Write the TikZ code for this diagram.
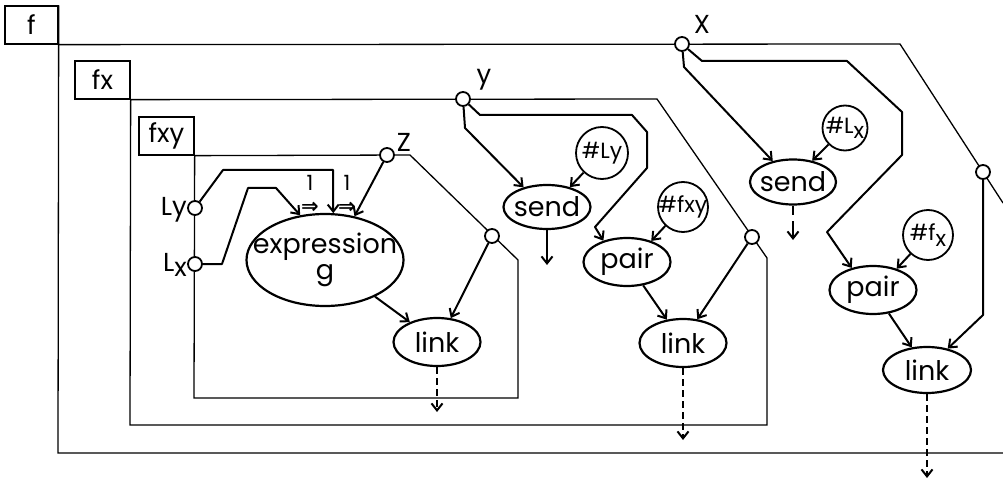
\documentclass[tikz,border=0pt]{standalone}
\usepackage{fontspec}
\setmainfont{Poppins}
\newfontfamily\arrowfont{DejaVu Sans}
\usetikzlibrary{arrows.meta,shapes.geometric}
\newcommand{\zw}[1]{\makebox[0pt]{#1}}
\tikzset{
  frameline/.style={line width=1.3pt, line join=miter},
  conn/.style={line width=2pt, line join=round},
  arr/.style={-{Straight Barb[length=7pt,width=11pt]}},
  dashy/.style={dash pattern=on 7pt off 4pt},
  proc/.style={ellipse, draw, line width=2.2pt, inner sep=0pt, font=\fontsize{27}{27}\selectfont},
  port/.style={circle, draw, line width=1.8pt, fill=white, minimum size=14pt, inner sep=0pt},
  konst/.style={circle, draw, line width=1.8pt, inner sep=0pt, font=\fontsize{22}{22}\selectfont},
  lab/.style={inner sep=0pt, font=\fontsize{26}{26}\selectfont},
  tagbox/.style={draw, line width=1.3pt, inner sep=0pt, font=\fontsize{26}{26}\selectfont},
  annot/.style={inner sep=0pt, align=center, font=\fontsize{21}{21}\selectfont},
}
\begin{document}
\begin{tikzpicture}[x=1pt,y=-1pt]
\useasboundingbox (0,0) rectangle (1003,481);
% frame labels
\node[tagbox, minimum width=53pt, minimum height=38pt] (tf) at (31.5,25) {f};
\node[tagbox, minimum width=55pt, minimum height=38pt] (tfx) at (102.5,80) {fx};
\node[tagbox, minimum width=55pt, minimum height=38pt] (tfxy) at (166.5,136) {fxy};
% frames
\draw[frameline] (tf.north east) -- (tf.south east) -- (900,44) -- (1003,203);
\draw[frameline] (tf.south east) -- (58,453) -- (1003,453);
\draw[frameline] (tfx.south east) -- (657,99) -- (767,258) -- (767,425) -- (130,425) -- (tfx.south east);
\draw[frameline] (tfxy.south east) -- (410,155) -- (518,260) -- (518,398) -- (194,398) -- (tfxy.south east);
% processes
\node[proc, minimum width=157pt, minimum height=92pt, align=center] (expr) at (325,260) {\zw{expression}\\[-1pt]\zw{g}};
\node[proc, minimum width=87pt, minimum height=48pt] (link1) at (437,342) {\zw{link}};
\node[proc, minimum width=87pt, minimum height=44pt] (send1) at (547,207) {\zw{send}};
\node[proc, minimum width=87pt, minimum height=48pt] (pair1) at (627,262) {\zw{pair}};
\node[proc, minimum width=87pt, minimum height=48pt] (link2) at (683,343) {\zw{link}};
\node[proc, minimum width=86pt, minimum height=45pt] (send2) at (793,182) {\zw{send}};
\node[proc, minimum width=87pt, minimum height=48pt] (pair2) at (873,290) {\zw{pair}};
\node[proc, minimum width=88pt, minimum height=46pt] (link3) at (927,370) {\zw{link}};
% constants
\node[konst, minimum size=52pt] (hLy) at (602,153) {\zw{\#Ly}};
\node[konst, minimum size=50pt] (hfxy) at (683,207) {\zw{\#fxy}};
\node[konst, minimum size=45pt] (hLx) at (845,128) {\zw{\#L\raisebox{-0.25em}{x}}};
\node[konst, minimum size=50pt] (hfx) at (928,235) {\zw{\#f\raisebox{-0.25em}{x}}};
% ports
\node[port] (pX) at (682,44) {};
\node[port] (pY) at (463,99) {};
\node[port] (pZ) at (387,155) {};
\node[port] (pLy) at (195,208) {};
\node[port] (pLx) at (195,264) {};
\node[port] (c1) at (492,236) {};
\node[port] (c2) at (752,237) {};
\node[port] (c3) at (983,172) {};
% port labels
\node[lab] (lX) at (702,24) {X};
\node[lab] (lY) at (484,80) {y};
\node[lab] (lZ) at (404,142) {Z};
\node[lab, anchor=east] (lLy) at (187,210) {Ly};
\node[lab, anchor=east] (lLx) at (187,265) {L\raisebox{-0.2em}{x}};
% annotations
\node[annot] (a1) at (310,194) {1\\[2pt]{\arrowfont\bfseries ⇒}};
\node[annot] (a2) at (347,194) {1\\[2pt]{\arrowfont\bfseries ⇒}};
% free ends
\coordinate (e1) at (437,412);
\coordinate (e2) at (547,265);
\coordinate (e3) at (683,440);
\coordinate (e4a) at (793,215);
\coordinate (e4b) at (793,221);
\coordinate (e4) at (793,240);
\coordinate (e5) at (927,478);
% connectors in fxy
\draw[conn, arr] (pLy) -- (223,170) -- (333,170) -- (expr.80);
\draw[conn, arr] (pLx) -- (222,264) -- (248,188) -- (276,188) -- (expr.119);
\draw[conn, arr] (pZ) -- (expr.56);
\draw[conn, arr] (expr) -- (link1);
\draw[conn, arr] (c1) -- (link1.60);
\draw[conn, arr, dashy] (link1.south) -- (e1);
% connectors in fx
\draw[conn, arr] (pY) -- (465,128) -- (send1.140);
\draw[conn, arr] (pY) -- (480,115) -- (632,115) -- (647,132) -- (647,168) -- (595,227) -- (pair1.138);
\draw[conn, arr] (hLy) -- (send1.41);
\draw[conn, arr] (send1.south) -- (e2);
\draw[conn, arr] (hfxy) -- (pair1.41);
\draw[conn, arr] (pair1) -- (link2);
\draw[conn, arr] (c2) -- (link2.59);
\draw[conn, arr, dashy] (link2.south) -- (e3);
% connectors in f
\draw[conn, arr] (pX) -- (684,67) -- (send2.134);
\draw[conn, arr] (pX) -- (702,61) -- (847,61) -- (902,112) -- (902,155) -- (827,232) -- (pair2.134);
\draw[conn, arr] (hLx) -- (send2.48);
\draw[conn] (send2.south) -- (e4a);
\draw[conn, arr] (e4b) -- (e4);
\draw[conn, arr] (hfx) -- (pair2.42);
\draw[conn, arr] (pair2) -- (link3);
\draw[conn, arr] (c3) -- (983,315) -- (link3.46);
\draw[conn, arr, dashy] (link3.south) -- (e5);
\end{tikzpicture}
\end{document}
